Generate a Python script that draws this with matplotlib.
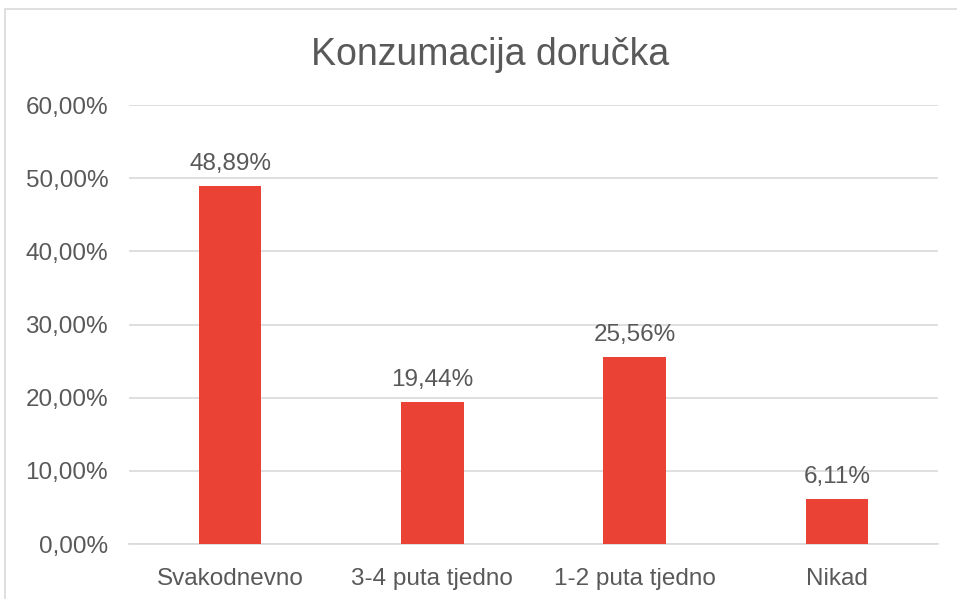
import matplotlib
matplotlib.use("Agg")
import matplotlib.pyplot as plt
from matplotlib.patches import Rectangle
from matplotlib.ticker import FuncFormatter

categories = ["Svakodnevno", "3-4 puta tjedno", "1-2 puta tjedno", "Nikad"]
values = [48.89, 19.44, 25.56, 6.11]
title = "Konzumacija doručka"

plt.rcParams['font.family'] = ['Liberation Sans', 'DejaVu Sans']
gray = '#595959'
grid = '#D9D9D9'

fig = plt.figure(figsize=(9.57, 5.99), dpi=100)
fig.patches.append(Rectangle((5/957, -0.1), 1.2, 1 - 9/599 + 0.1, transform=fig.transFigure,
                             fill=False, edgecolor=grid, linewidth=1.2))
ax = fig.add_axes([129/957, 1 - 544/599, (938 - 129)/957, (544 - 105)/599])

x = range(len(categories))
ax.bar(x, values, width=0.31, color='#EA4335', zorder=3)
for xi, v in zip(x, values):
    ax.annotate(f"{v:.2f}%".replace('.', ','), (xi, v), xytext=(0, 8), textcoords='offset points',
                ha='center', va='bottom', fontsize=17.5, color=gray)

ax.set_xlim(-0.5, len(categories) - 0.5)
ax.set_ylim(0, 60)
ax.set_yticks(range(0, 61, 10))
ax.yaxis.set_major_formatter(FuncFormatter(lambda v, p: f"{v:.2f}%".replace('.', ',')))
ax.set_xticks(list(x))
ax.set_xticklabels(categories)
ax.tick_params(axis='both', length=0, labelsize=17.5, labelcolor=gray)
ax.tick_params(axis='x', pad=17.5)
ax.tick_params(axis='y', pad=15)
ax.grid(axis='y', color=grid, linewidth=1.2, zorder=0)
for s in ['top', 'right', 'left']:
    ax.spines[s].set_visible(False)
ax.spines['bottom'].set_color(grid)
ax.spines['bottom'].set_linewidth(1.2)

fig.text(490/957, 1 - 55/599, title, ha='center', va='center', fontsize=27, color=gray)

fig.savefig("out.png", dpi=100)
